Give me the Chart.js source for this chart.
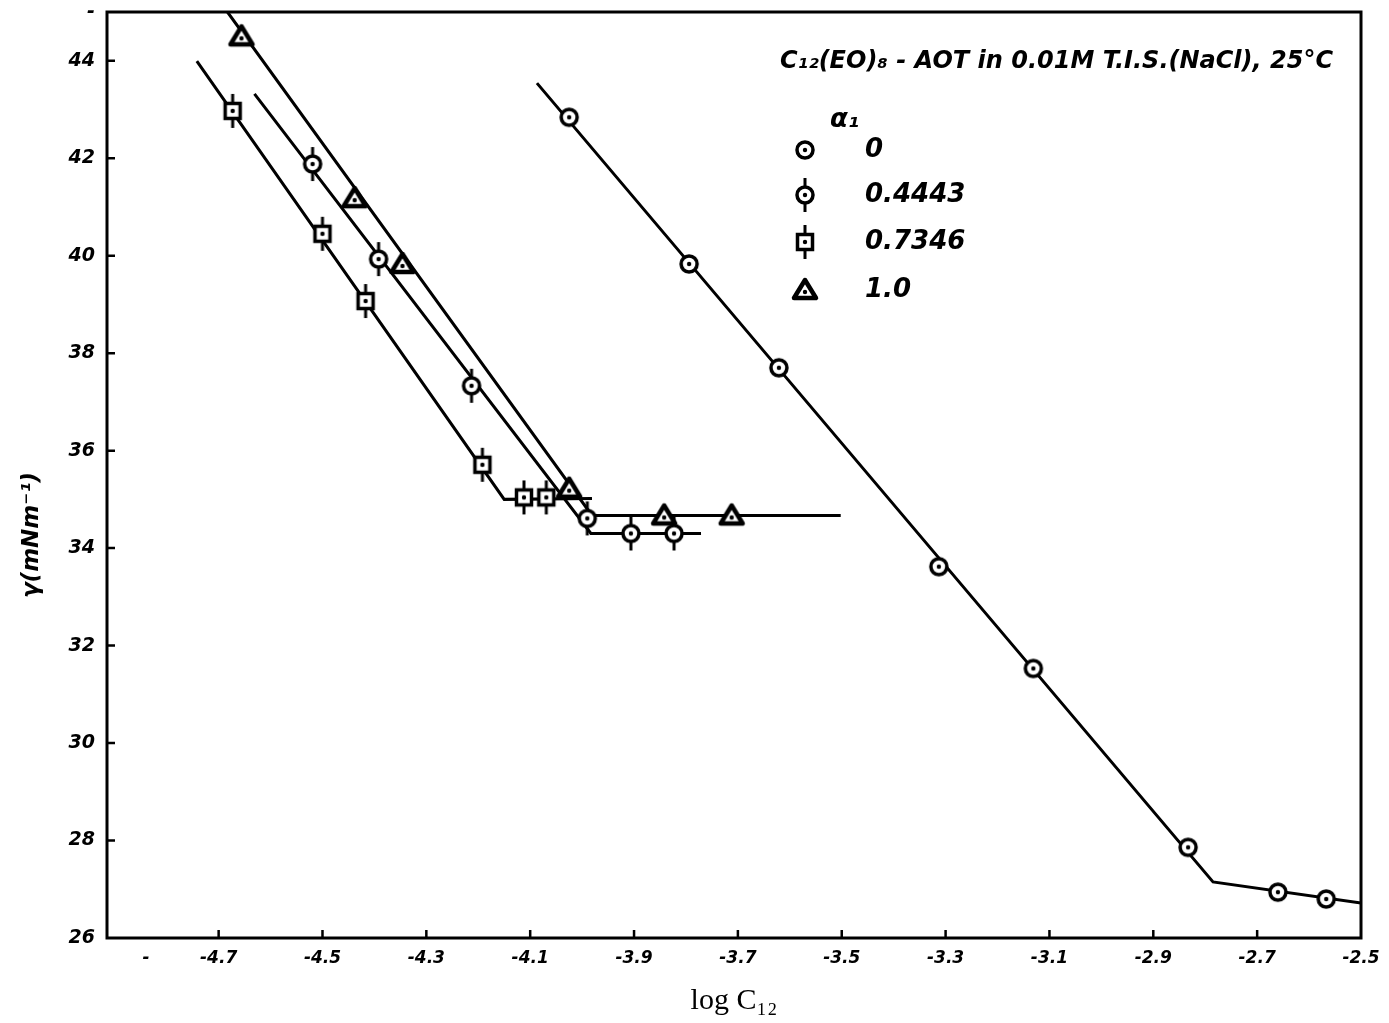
<!DOCTYPE html>
<html>
<head>
<meta charset="utf-8">
<script src="https://cdn.jsdelivr.net/npm/chart.js@4"></script>
<style>
  html, body { margin: 0; padding: 0; background: #fff; }
  canvas { display: block; }
</style>
</head>
<body>
<canvas id="chart" width="1389" height="1023"></canvas>
<script>
// Values (x = log C12, y = surface tension, mN/m)
const xTicks = [-4.84, -4.7, -4.5, -4.3, -4.1, -3.9, -3.7, -3.5, -3.3, -3.1, -2.9, -2.7, -2.5];
const xTickLabels = ["-", "-4.7", "-4.5", "-4.3", "-4.1", "-3.9", "-3.7", "-3.5", "-3.3", "-3.1", "-2.9", "-2.7", "-2.5"];
const yTicks = [26, 28, 30, 32, 34, 36, 38, 40, 42, 44, 45];
const yTickLabels = ["26", "28", "30", "32", "34", "36", "38", "40", "42", "44", "-"];

const seriesNames = ["0", "0.4443", "0.7346", "1.0"];

// measured points
const a0X = [-4.025, -3.794, -3.621, -3.313, -3.131, -2.833, -2.660, -2.567];
const a0Y = [42.84, 39.83, 37.70, 33.62, 31.53, 27.86, 26.94, 26.80];
const a4443X = [-4.519, -4.392, -4.213, -3.990, -3.906, -3.823];
const a4443Y = [41.88, 39.93, 37.33, 34.61, 34.30, 34.30];
const a7346X = [-4.673, -4.500, -4.417, -4.192, -4.112, -4.069];
const a7346Y = [42.97, 40.45, 39.07, 35.71, 35.04, 35.04];
const a1X = [-4.656, -4.438, -4.346, -4.025, -3.842, -3.712];
const a1Y = [44.50, 41.18, 39.83, 35.22, 34.67, 34.67];

// hand-drawn fitted lines (start, break, end)
const fit0X = [-4.087, -2.785, -2.5];
const fit0Y = [43.54, 27.15, 26.72];
const fit4443X = [-4.631, -3.983, -3.771];
const fit4443Y = [43.32, 34.30, 34.30];
const fit7346X = [-4.742, -4.150, -3.981];
const fit7346Y = [43.99, 35.00, 35.02];
const fit1X = [-4.683, -3.981, -3.502];
const fit1Y = [45.00, 34.67, 34.67];

const zip = (xs, ys) => xs.map((x, i) => ({ x, y: ys[i] }));

const handFont = "'DejaVu Sans', 'Liberation Sans', sans-serif";

// marker images, roughly like the pen symbols on the original
function makeMarker(kind) {
  const s = 38;
  const c = document.createElement("canvas");
  c.width = s;
  c.height = s;
  const g = c.getContext("2d");
  const m = s / 2;
  g.strokeStyle = "#000";
  g.fillStyle = "#fff";
  g.lineWidth = 3.5;
  if (kind === "circle" || kind === "circleBar") {
    g.beginPath();
    g.arc(m, m, 8, 0, Math.PI * 2);
    g.fill();
    g.stroke();
  }
  if (kind === "square") {
    g.fillRect(m - 7.5, m - 7.5, 15, 15);
    g.strokeRect(m - 7.5, m - 7.5, 15, 15);
  }
  if (kind === "circleBar" || kind === "square") {
    g.lineWidth = 3;
    g.beginPath();
    g.moveTo(m, m - 17);
    g.lineTo(m, m - 9);
    g.moveTo(m, m + 9);
    g.lineTo(m, m + 17);
    g.stroke();
  }
  if (kind === "triangle") {
    g.lineWidth = 4.5;
    g.lineJoin = "round";
    g.beginPath();
    g.moveTo(m, m - 10);
    g.lineTo(m + 11, m + 8);
    g.lineTo(m - 11, m + 8);
    g.closePath();
    g.fill();
    g.stroke();
  }
  g.fillStyle = "#000";
  g.beginPath();
  g.arc(m, m + (kind === "triangle" ? 2 : 0), 2.2, 0, Math.PI * 2);
  g.fill();
  return c;
}

const markers = [
  makeMarker("circle"),
  makeMarker("circleBar"),
  makeMarker("square"),
  makeMarker("triangle"),
];

const pointSet = (label, data, img) => ({
  label,
  data,
  type: "scatter",
  showLine: false,
  pointStyle: img,
  pointRadius: 9,
  order: 0,
});

const lineSet = (data) => ({
  data,
  type: "line",
  showLine: true,
  borderColor: "#000",
  borderWidth: 3,
  tension: 0,
  pointRadius: 0,
  fill: false,
  order: 1,
});

// frame, inward tick marks, y title and the key
const decorations = {
  id: "decorations",
  afterDraw(chart) {
    const { ctx, chartArea: a, scales } = chart;
    ctx.save();
    ctx.strokeStyle = "#000";
    ctx.lineWidth = 3;
    ctx.strokeRect(a.left, a.top, a.right - a.left, a.bottom - a.top);

    ctx.lineWidth = 2.5;
    ctx.beginPath();
    for (const v of yTicks) {
      if (v <= 26 || v >= 45) continue;
      const py = scales.y.getPixelForValue(v);
      ctx.moveTo(a.left, py);
      ctx.lineTo(a.left + 8, py);
    }
    xTicks.forEach((v, i) => {
      if (xTickLabels[i] === "-" || v >= -2.5) return;
      const px = scales.x.getPixelForValue(v);
      ctx.moveTo(px, a.bottom);
      ctx.lineTo(px, a.bottom - 8);
    });
    ctx.stroke();

    // y axis title
    ctx.fillStyle = "#000";
    ctx.translate(32, 535);
    ctx.rotate(-Math.PI / 2);
    ctx.font = `bold oblique 23px ${handFont}`;
    ctx.textAlign = "center";
    ctx.textBaseline = "middle";
    ctx.fillText("γ(mNm⁻¹)", 0, 0);
    ctx.setTransform(1, 0, 0, 1, 0, 0);

    // key
    ctx.textAlign = "left";
    ctx.font = `bold oblique 24px ${handFont}`;
    ctx.fillText("C₁₂(EO)₈ - AOT in 0.01M T.I.S.(NaCl), 25°C", 780, 62);
    ctx.font = `bold oblique 26px ${handFont}`;
    ctx.fillText("α₁", 830, 120);
    const rows = [150, 195, 242, 290];
    ctx.font = `bold oblique 26px ${handFont}`;
    seriesNames.forEach((name, i) => {
      const img = markers[i];
      ctx.drawImage(img, 805 - img.width / 2, rows[i] - img.height / 2);
      ctx.fillText(name, 865, rows[i]);
    });
    ctx.restore();
  },
};

// eslint-disable-next-line no-new
new Chart(document.getElementById("chart"), {
  type: "scatter",
  plugins: [decorations],
  data: {
    datasets: [
      lineSet(zip(fit0X, fit0Y)),
      lineSet(zip(fit4443X, fit4443Y)),
      lineSet(zip(fit7346X, fit7346Y)),
      lineSet(zip(fit1X, fit1Y)),
      pointSet(seriesNames[0], zip(a0X, a0Y), markers[0]),
      pointSet(seriesNames[1], zip(a4443X, a4443Y), markers[1]),
      pointSet(seriesNames[2], zip(a7346X, a7346Y), markers[2]),
      pointSet(seriesNames[3], zip(a1X, a1Y), markers[3]),
    ],
  },
  options: {
    animation: false,
    responsive: false,
    layout: {
      padding: { left: 0, right: 28, top: 12, bottom: 0 },
    },
    plugins: {
      legend: { display: false },
      tooltip: { enabled: false },
    },
    scales: {
      x: {
        type: "linear",
        min: -4.915,
        max: -2.5,
        afterBuildTicks: (scale) => {
          scale.ticks = xTicks.map((v) => ({ value: v }));
        },
        afterFit: (scale) => {
          scale.height = 85;
          scale.paddingLeft = 0;
          scale.paddingRight = 0;
        },
        grid: { display: false, drawTicks: false },
        border: { display: false },
        ticks: {
          padding: 10,
          color: "#000",
          autoSkip: false,
          maxRotation: 0,
          font: { family: handFont, size: 17, weight: "bold", style: "oblique" },
          callback: (v, i) => xTickLabels[i],
        },
        title: {
          display: true,
          text: "log C₁₂",
          color: "#000",
          font: { family: "'Liberation Serif', 'Times New Roman', serif", size: 30 },
          padding: { top: 0, bottom: 4 },
        },
      },
      y: {
        type: "linear",
        min: 26,
        max: 45,
        afterBuildTicks: (scale) => {
          scale.ticks = yTicks.map((v) => ({ value: v }));
        },
        afterFit: (scale) => {
          scale.width = 107;
          scale.paddingTop = 0;
          scale.paddingBottom = 0;
        },
        grid: { display: false, drawTicks: false },
        border: { display: false },
        ticks: {
          padding: 12,
          color: "#000",
          autoSkip: false,
          font: { family: handFont, size: 19, weight: "bold", style: "oblique" },
          callback: (v, i) => yTickLabels[i],
        },
      },
    },
  },
});
</script>
</body>
</html>
